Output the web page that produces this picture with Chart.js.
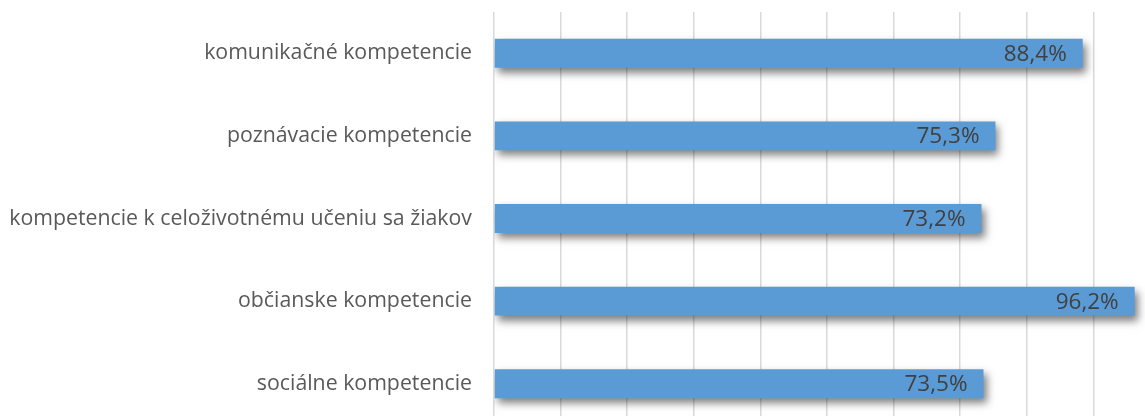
<!DOCTYPE html>
<html>
<head>
<meta charset="utf-8">
<script src="https://cdn.jsdelivr.net/npm/chart.js@4.4.1/dist/chart.umd.min.js"></script>
<style>
  html, body { margin: 0; padding: 0; background: #ffffff; }
  #wrap { width: 1145px; height: 416px; overflow: hidden; position: relative; }
  canvas { display: block; }
</style>
</head>
<body>
<div id="wrap"><canvas id="c" width="1160" height="425"></canvas></div>
<script>
const categories = [
  "komunikačné kompetencie",
  "poznávacie kompetencie",
  "kompetencie k celoživotnému učeniu sa žiakov",
  "občianske kompetencie",
  "sociálne kompetencie"
];
const values = [88.4, 75.3, 73.2, 96.2, 73.5];
const axisMin = 0;
const axisMax = 100;
const axisStep = 10;

function fmt(v) { return v.toFixed(1).replace('.', ',') + '%'; }

const shadowPlugin = {
  id: 'barShadow',
  beforeDatasetsDraw(chart) {
    const ctx = chart.ctx;
    ctx.save();
    ctx.shadowColor = 'rgba(0,0,0,0.5)';
    ctx.shadowBlur = 8;
    ctx.shadowOffsetX = 3;
    ctx.shadowOffsetY = 5;
  },
  afterDatasetsDraw(chart) {
    chart.ctx.restore();
    const ctx = chart.ctx;
    ctx.save();
    ctx.font = '22.5px "Open Sans", "Liberation Sans", Arial, sans-serif';
    ctx.fillStyle = '#404040';
    ctx.textAlign = 'right';
    ctx.textBaseline = 'middle';
    const meta = chart.getDatasetMeta(0);
    meta.data.forEach((bar, i) => {
      ctx.fillText(fmt(values[i]), bar.x - 16, bar.y + 1);
    });
    ctx.restore();
  }
};

new Chart(document.getElementById('c'), {
  type: 'bar',
  data: {
    labels: categories,
    datasets: [{
      data: values,
      backgroundColor: '#5B9BD5',
      borderWidth: 0,
      barPercentage: 0.35,
      categoryPercentage: 1.0
    }]
  },
  options: {
    indexAxis: 'y',
    responsive: false,
    animation: false,
    devicePixelRatio: 1,
    layout: { padding: { top: 12, left: 0, right: 0, bottom: 0 } },
    plugins: { legend: { display: false }, tooltip: { enabled: false } },
    scales: {
      x: {
        min: axisMin,
        max: axisMax,
        ticks: { display: false, stepSize: axisStep, padding: 0 },
        grid: { color: '#d9d9d9', lineWidth: 1.5, drawTicks: false },
        border: { display: false },
        afterFit(s) { s.height = 0; s.paddingLeft = 0; s.paddingRight = 0; }
      },
      y: {
        ticks: {
          color: '#595959',
          font: { family: '"Open Sans", "Liberation Sans", Arial, sans-serif', size: 21.3 },
          padding: 22
        },
        grid: { display: false, drawTicks: false },
        border: { display: false },
        afterFit(s) { s.width = 494; s.paddingTop = 0; s.paddingBottom = 0; }
      }
    }
  },
  plugins: [shadowPlugin]
});
</script>
</body>
</html>
